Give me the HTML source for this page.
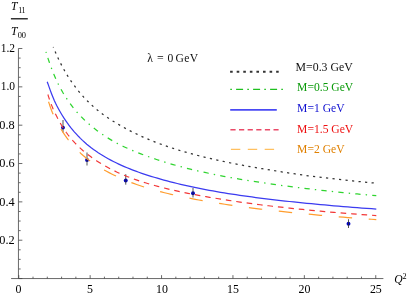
<!DOCTYPE html>
<html><head><meta charset="utf-8"><title>plot</title>
<style>
html,body{margin:0;padding:0;background:#fff;}
body{width:408px;height:295px;overflow:hidden;font-family:"Liberation Serif",serif;}
svg{display:block;will-change:transform;}
text{font-family:"Liberation Serif",serif;}
</style></head><body>
<svg width="408" height="295" viewBox="0 0 408 295">
<rect width="408" height="295" fill="#fff"/>
<g stroke="#444" stroke-width="0.8" fill="none">
<line x1="11.1" y1="278.55" x2="383.4" y2="278.55"/>
<line x1="18.45" y1="48.21" x2="18.45" y2="278.55"/>
<line x1="18.75" y1="278.55" x2="18.75" y2="275.15"/>
<line x1="33.03" y1="278.55" x2="33.03" y2="276.65"/>
<line x1="47.31" y1="278.55" x2="47.31" y2="276.65"/>
<line x1="61.59" y1="278.55" x2="61.59" y2="276.65"/>
<line x1="75.87" y1="278.55" x2="75.87" y2="276.65"/>
<line x1="90.15" y1="278.55" x2="90.15" y2="275.15"/>
<line x1="104.43" y1="278.55" x2="104.43" y2="276.65"/>
<line x1="118.71" y1="278.55" x2="118.71" y2="276.65"/>
<line x1="132.99" y1="278.55" x2="132.99" y2="276.65"/>
<line x1="147.27" y1="278.55" x2="147.27" y2="276.65"/>
<line x1="161.55" y1="278.55" x2="161.55" y2="275.15"/>
<line x1="175.83" y1="278.55" x2="175.83" y2="276.65"/>
<line x1="190.11" y1="278.55" x2="190.11" y2="276.65"/>
<line x1="204.39" y1="278.55" x2="204.39" y2="276.65"/>
<line x1="218.67" y1="278.55" x2="218.67" y2="276.65"/>
<line x1="232.95" y1="278.55" x2="232.95" y2="275.15"/>
<line x1="247.23" y1="278.55" x2="247.23" y2="276.65"/>
<line x1="261.51" y1="278.55" x2="261.51" y2="276.65"/>
<line x1="275.79" y1="278.55" x2="275.79" y2="276.65"/>
<line x1="290.07" y1="278.55" x2="290.07" y2="276.65"/>
<line x1="304.35" y1="278.55" x2="304.35" y2="275.15"/>
<line x1="318.63" y1="278.55" x2="318.63" y2="276.65"/>
<line x1="332.91" y1="278.55" x2="332.91" y2="276.65"/>
<line x1="347.19" y1="278.55" x2="347.19" y2="276.65"/>
<line x1="361.47" y1="278.55" x2="361.47" y2="276.65"/>
<line x1="375.75" y1="278.55" x2="375.75" y2="275.15"/>
<line x1="18.75" y1="278.55" x2="22.35" y2="278.55"/>
<line x1="18.75" y1="268.97" x2="20.65" y2="268.97"/>
<line x1="18.75" y1="259.38" x2="20.65" y2="259.38"/>
<line x1="18.75" y1="249.80" x2="20.65" y2="249.80"/>
<line x1="18.75" y1="240.21" x2="22.35" y2="240.21"/>
<line x1="18.75" y1="230.62" x2="20.65" y2="230.62"/>
<line x1="18.75" y1="221.04" x2="20.65" y2="221.04"/>
<line x1="18.75" y1="211.46" x2="20.65" y2="211.46"/>
<line x1="18.75" y1="201.87" x2="22.35" y2="201.87"/>
<line x1="18.75" y1="192.29" x2="20.65" y2="192.29"/>
<line x1="18.75" y1="182.70" x2="20.65" y2="182.70"/>
<line x1="18.75" y1="173.12" x2="20.65" y2="173.12"/>
<line x1="18.75" y1="163.53" x2="22.35" y2="163.53"/>
<line x1="18.75" y1="153.95" x2="20.65" y2="153.95"/>
<line x1="18.75" y1="144.36" x2="20.65" y2="144.36"/>
<line x1="18.75" y1="134.78" x2="20.65" y2="134.78"/>
<line x1="18.75" y1="125.19" x2="22.35" y2="125.19"/>
<line x1="18.75" y1="115.61" x2="20.65" y2="115.61"/>
<line x1="18.75" y1="106.02" x2="20.65" y2="106.02"/>
<line x1="18.75" y1="96.44" x2="20.65" y2="96.44"/>
<line x1="18.75" y1="86.85" x2="22.35" y2="86.85"/>
<line x1="18.75" y1="77.27" x2="20.65" y2="77.27"/>
<line x1="18.75" y1="67.68" x2="20.65" y2="67.68"/>
<line x1="18.75" y1="58.09" x2="20.65" y2="58.09"/>
<line x1="18.75" y1="48.51" x2="22.35" y2="48.51"/>
</g>
<circle cx="63" cy="127.6" r="1.95" fill="#0000c8"/>
<line x1="63" y1="120" x2="63" y2="132.5" stroke="#2a2a2a" stroke-width="0.8"/>
<circle cx="87" cy="160" r="1.95" fill="#0000c8"/>
<line x1="87" y1="152.5" x2="87" y2="165.5" stroke="#2a2a2a" stroke-width="0.8"/>
<circle cx="125.75" cy="180.5" r="1.95" fill="#0000c8"/>
<line x1="125.75" y1="174.2" x2="125.75" y2="184.7" stroke="#2a2a2a" stroke-width="0.8"/>
<circle cx="193" cy="193.25" r="1.95" fill="#0000c8"/>
<line x1="193" y1="188" x2="193" y2="197.5" stroke="#2a2a2a" stroke-width="0.8"/>
<circle cx="348.5" cy="223.75" r="1.95" fill="#0000c8"/>
<line x1="348.5" y1="219.25" x2="348.5" y2="228" stroke="#2a2a2a" stroke-width="0.8"/>
<path d="M53.30,47.01 L53.48,47.46 L53.84,48.36 L54.33,49.57 L54.93,51.02 L55.63,52.67 L56.42,54.48 L57.29,56.43 L58.25,58.49 L59.27,60.64 L60.37,62.86 L61.53,65.13 L62.76,67.45 L64.06,69.79 L65.41,72.15 L66.82,74.52 L68.29,76.89 L69.82,79.25 L71.40,81.60 L73.04,83.93 L74.73,86.24 L76.47,88.52 L78.26,90.77 L80.10,92.99 L81.99,95.17 L83.92,97.32 L85.90,99.44 L87.93,101.51 L90.01,103.54 L92.13,105.53 L94.29,107.47 L96.50,109.35 L98.75,111.18 L101.05,112.97 L103.38,114.70 L105.76,116.40 L108.18,118.05 L110.64,119.66 L113.14,121.24 L115.68,122.79 L118.26,124.32 L120.87,125.82 L123.53,127.31 L126.22,128.78 L128.96,130.23 L131.73,131.65 L134.53,133.05 L137.38,134.42 L140.26,135.76 L143.17,137.07 L146.13,138.36 L149.11,139.62 L152.14,140.85 L155.20,142.06 L158.29,143.24 L161.42,144.40 L164.58,145.52 L167.78,146.62 L171.01,147.70 L174.27,148.74 L177.57,149.77 L180.90,150.78 L184.26,151.77 L187.66,152.73 L191.09,153.68 L194.55,154.61 L198.04,155.52 L201.57,156.42 L205.12,157.29 L208.71,158.15 L212.33,159.00 L215.98,159.83 L219.66,160.64 L223.37,161.44 L227.12,162.22 L230.89,162.99 L234.69,163.75 L238.53,164.49 L242.39,165.22 L246.28,165.93 L250.21,166.63 L254.16,167.33 L258.14,168.00 L262.16,168.67 L266.20,169.33 L270.27,170.00 L274.36,170.67 L278.49,171.35 L282.65,172.03 L286.83,172.70 L291.04,173.36 L295.28,173.99 L299.55,174.60 L303.85,175.18 L308.17,175.76 L312.53,176.32 L316.91,176.87 L321.31,177.42 L325.75,177.95 L330.21,178.47 L334.70,178.99 L339.21,179.49 L343.76,179.98 L348.33,180.47 L352.92,180.94 L357.54,181.42 L362.19,181.88 L366.87,182.34 L371.57,182.79 L376.30,183.23" fill="none" stroke="#333" stroke-width="1.25" stroke-dasharray="2.2 4.345" stroke-dashoffset="1.66"/>
<path d="M45.95,51.81 L46.13,52.40 L46.50,53.60 L47.00,55.22 L47.62,57.15 L48.33,59.36 L49.14,61.77 L50.04,64.35 L51.01,67.05 L52.06,69.82 L53.18,72.64 L54.37,75.51 L55.63,78.40 L56.95,81.30 L58.34,84.16 L59.78,86.98 L61.29,89.74 L62.85,92.47 L64.47,95.15 L66.14,97.79 L67.86,100.38 L69.64,102.91 L71.48,105.39 L73.36,107.82 L75.29,110.18 L77.27,112.49 L79.30,114.74 L81.37,116.92 L83.49,119.05 L85.66,121.11 L87.88,123.12 L90.13,125.08 L92.44,126.98 L94.78,128.84 L97.17,130.65 L99.60,132.42 L102.08,134.15 L104.59,135.85 L107.15,137.50 L109.75,139.11 L112.38,140.68 L115.06,142.21 L117.78,143.70 L120.53,145.11 L123.33,146.44 L126.16,147.72 L129.03,148.98 L131.94,150.22 L134.89,151.46 L137.87,152.67 L140.89,153.86 L143.95,155.02 L147.04,156.17 L150.17,157.29 L153.33,158.40 L156.53,159.48 L159.76,160.53 L163.03,161.57 L166.34,162.58 L169.67,163.57 L173.05,164.55 L176.45,165.50 L179.89,166.44 L183.37,167.35 L186.87,168.25 L190.41,169.12 L193.98,169.98 L197.59,170.82 L201.23,171.65 L204.90,172.46 L208.60,173.25 L212.33,174.03 L216.10,174.79 L219.89,175.54 L223.72,176.27 L227.58,176.99 L231.47,177.70 L235.39,178.39 L239.34,179.07 L243.33,179.74 L247.34,180.39 L251.38,181.04 L255.45,181.67 L259.56,182.30 L263.69,182.91 L267.85,183.52 L272.04,184.12 L276.27,184.71 L280.52,185.29 L284.79,185.86 L289.10,186.43 L293.44,186.98 L297.81,187.53 L302.20,188.07 L306.62,188.60 L311.07,189.13 L315.55,189.64 L320.06,190.15 L324.60,190.66 L329.16,191.15 L333.75,191.64 L338.37,192.11 L343.02,192.59 L347.69,193.05 L352.39,193.51 L357.12,193.95 L361.87,194.40 L366.66,194.83 L371.46,195.25 L376.30,195.67" fill="none" stroke="#2fd42f" stroke-width="1.25" stroke-dasharray="1.4 5.2 5.3 5.14" stroke-dashoffset="0.24"/>
<path d="M47.20,81.67 L47.38,82.17 L47.75,83.21 L48.25,84.63 L48.86,86.37 L49.58,88.39 L50.38,90.62 L51.27,93.01 L52.24,95.48 L53.28,98.06 L54.40,100.70 L55.59,103.31 L56.84,105.80 L58.16,108.29 L59.54,110.78 L60.98,113.26 L62.48,115.73 L64.03,118.17 L65.65,120.58 L67.31,122.95 L69.03,125.29 L70.80,127.59 L72.63,129.84 L74.50,132.05 L76.43,134.20 L78.40,136.31 L80.42,138.37 L82.49,140.37 L84.60,142.29 L86.76,144.15 L88.97,145.95 L91.22,147.72 L93.51,149.43 L95.85,151.09 L98.23,152.70 L100.65,154.26 L103.12,155.77 L105.62,157.25 L108.17,158.68 L110.75,160.08 L113.38,161.45 L116.05,162.79 L118.76,164.09 L121.50,165.35 L124.28,166.58 L127.11,167.78 L129.97,168.94 L132.86,170.08 L135.80,171.18 L138.77,172.26 L141.78,173.31 L144.82,174.33 L147.90,175.33 L151.02,176.31 L154.17,177.27 L157.36,178.20 L160.58,179.13 L163.84,180.03 L167.13,180.92 L170.46,181.80 L173.82,182.67 L177.21,183.51 L180.64,184.33 L184.10,185.13 L187.59,185.92 L191.12,186.69 L194.67,187.44 L198.27,188.18 L201.89,188.89 L205.54,189.60 L209.23,190.29 L212.95,190.96 L216.70,191.62 L220.49,192.27 L224.30,192.90 L228.14,193.52 L232.02,194.13 L235.93,194.72 L239.86,195.31 L243.83,195.88 L247.83,196.44 L251.85,196.99 L255.91,197.53 L260.00,198.06 L264.12,198.58 L268.26,199.09 L272.44,199.59 L276.64,200.08 L280.88,200.56 L285.14,201.04 L289.43,201.50 L293.75,201.96 L298.10,202.41 L302.48,202.85 L306.89,203.29 L311.32,203.72 L315.78,204.15 L320.27,204.57 L324.79,204.98 L329.34,205.40 L333.91,205.80 L338.51,206.20 L343.14,206.59 L347.80,206.97 L352.48,207.34 L357.19,207.71 L361.93,208.06 L366.69,208.40 L371.48,208.74 L376.30,209.07" fill="none" stroke="#3b3bf0" stroke-width="1.25"/>
<path d="M47.90,94.52 L48.08,95.13 L48.45,96.32 L48.95,97.88 L49.56,99.70 L50.27,101.71 L51.07,103.86 L51.96,106.11 L52.93,108.46 L53.97,110.82 L55.09,113.20 L56.27,115.61 L57.52,118.08 L58.84,120.55 L60.21,123.01 L61.65,125.45 L63.14,127.85 L64.70,130.20 L66.31,132.51 L67.97,134.75 L69.69,136.94 L71.45,139.07 L73.27,141.14 L75.14,143.15 L77.06,145.10 L79.03,147.01 L81.05,148.86 L83.11,150.67 L85.22,152.43 L87.38,154.15 L89.58,155.83 L91.82,157.48 L94.11,159.09 L96.44,160.66 L98.82,162.20 L101.24,163.70 L103.70,165.16 L106.20,166.59 L108.74,167.98 L111.32,169.33 L113.94,170.65 L116.60,171.93 L119.30,173.18 L122.04,174.39 L124.82,175.56 L127.64,176.69 L130.49,177.77 L133.38,178.83 L136.31,179.85 L139.28,180.86 L142.28,181.83 L145.32,182.79 L148.39,183.72 L151.50,184.62 L154.65,185.51 L157.83,186.37 L161.04,187.22 L164.29,188.04 L167.58,188.85 L170.89,189.64 L174.25,190.41 L177.63,191.17 L181.05,191.90 L184.50,192.63 L187.99,193.33 L191.51,194.02 L195.06,194.70 L198.64,195.36 L202.26,196.01 L205.91,196.66 L209.59,197.29 L213.30,197.91 L217.04,198.53 L220.82,199.14 L224.62,199.74 L228.46,200.33 L232.33,200.91 L236.22,201.48 L240.15,202.05 L244.11,202.61 L248.10,203.15 L252.12,203.69 L256.17,204.23 L260.25,204.75 L264.35,205.26 L268.49,205.76 L272.66,206.25 L276.86,206.74 L281.08,207.21 L285.34,207.67 L289.62,208.13 L293.93,208.58 L298.27,209.03 L302.64,209.47 L307.03,209.91 L311.46,210.33 L315.91,210.75 L320.39,211.17 L324.90,211.58 L329.44,211.98 L334.00,212.37 L338.59,212.75 L343.21,213.13 L347.86,213.50 L352.53,213.86 L357.23,214.21 L361.96,214.56 L366.71,214.89 L371.49,215.22 L376.30,215.55" fill="none" stroke="#f23838" stroke-width="1.2" stroke-dasharray="5.6 4.9" stroke-dashoffset="0.37"/>
<path d="M48.30,100.93 L48.48,101.48 L48.85,102.61 L49.35,104.13 L49.96,105.96 L50.67,108.02 L51.47,110.21 L52.36,112.44 L53.32,114.69 L54.36,116.96 L55.48,119.26 L56.66,121.58 L57.91,123.87 L59.22,126.15 L60.60,128.44 L62.03,130.76 L63.53,133.10 L65.08,135.40 L66.68,137.66 L68.34,139.87 L70.06,142.03 L71.83,144.14 L73.64,146.20 L75.51,148.21 L77.43,150.17 L79.40,152.07 L81.41,153.93 L83.47,155.73 L85.58,157.49 L87.73,159.20 L89.93,160.86 L92.17,162.47 L94.46,164.04 L96.79,165.57 L99.16,167.06 L101.57,168.50 L104.03,169.92 L106.53,171.29 L109.06,172.64 L111.64,173.96 L114.26,175.24 L116.92,176.50 L119.62,177.73 L122.35,178.92 L125.13,180.09 L127.94,181.23 L130.79,182.35 L133.68,183.43 L136.60,184.49 L139.57,185.51 L142.56,186.51 L145.60,187.48 L148.67,188.42 L151.77,189.33 L154.92,190.21 L158.09,191.08 L161.30,191.92 L164.55,192.74 L167.83,193.54 L171.14,194.32 L174.49,195.08 L177.87,195.83 L181.29,196.55 L184.74,197.27 L188.22,197.96 L191.73,198.64 L195.28,199.31 L198.86,199.97 L202.47,200.61 L206.12,201.24 L209.79,201.86 L213.50,202.47 L217.24,203.07 L221.01,203.66 L224.81,204.24 L228.64,204.82 L232.50,205.38 L236.39,205.93 L240.32,206.47 L244.27,207.01 L248.26,207.53 L252.27,208.05 L256.31,208.56 L260.39,209.06 L264.49,209.55 L268.62,210.03 L272.79,210.51 L276.98,210.98 L281.20,211.44 L285.45,211.89 L289.72,212.34 L294.03,212.78 L298.36,213.21 L302.73,213.64 L307.12,214.06 L311.54,214.47 L315.99,214.88 L320.46,215.28 L324.96,215.67 L329.50,216.06 L334.05,216.44 L338.64,216.81 L343.25,217.18 L347.89,217.54 L352.56,217.90 L357.25,218.25 L361.98,218.59 L366.72,218.93 L371.50,219.26 L376.30,219.59" fill="none" stroke="#ff9d2e" stroke-width="1.2" stroke-dasharray="13.4 16.7" stroke-dashoffset="29.30"/>
<line x1="230.1" y1="71.75" x2="278.7" y2="71.75" stroke="#333" stroke-width="1.9" stroke-dasharray="2.6 3.98"/>
<line x1="230.3" y1="89.4" x2="283.2" y2="89.4" stroke="#1ec01e" stroke-width="1.3" stroke-dasharray="1.6 4.2 7 4.2"/>
<line x1="230.2" y1="109.85" x2="276.8" y2="109.85" stroke="#4a4af4" stroke-width="1.7"/>
<line x1="230.4" y1="129.75" x2="278.6" y2="129.75" stroke="#ea4a68" stroke-width="1.3" stroke-dasharray="5.2 3.42"/>
<line x1="230.9" y1="149.3" x2="274.5" y2="149.3" stroke="#ffc060" stroke-width="1.35" stroke-dasharray="9.4 7.5"/>
<line x1="10.9" y1="18.75" x2="27.8" y2="18.75" stroke="#333" stroke-width="1.5"/>
<text x="295.6" y="70.9" fill="#111" font-size="11.8" text-anchor="start" >M=0.3 GeV</text>
<text x="297.1" y="91.0" fill="#0a9a0a" font-size="11.6" text-anchor="start" >M=0.5 GeV</text>
<text x="297.1" y="112.0" fill="#1010d0" font-size="11.6" text-anchor="start" >M=1 GeV</text>
<text x="297.1" y="132.5" fill="#ee1111" font-size="11.6" text-anchor="start" >M=1.5 GeV</text>
<text x="297.1" y="153.0" fill="#e08000" font-size="11.6" text-anchor="start" >M=2 GeV</text>
<text x="14.6" y="243.96" fill="#000" font-size="12.3" text-anchor="end" >0.2</text>
<text x="14.6" y="205.62" fill="#000" font-size="12.3" text-anchor="end" >0.4</text>
<text x="14.6" y="167.28" fill="#000" font-size="12.3" text-anchor="end" >0.6</text>
<text x="14.6" y="128.94" fill="#000" font-size="12.3" text-anchor="end" >0.8</text>
<text x="15.1" y="90.35" fill="#000" font-size="11.5" text-anchor="end" >1.0</text>
<text x="15.1" y="52.01" fill="#000" font-size="11.5" text-anchor="end" >1.2</text>
<text x="18.55" y="292.6" fill="#000" font-size="11.9" text-anchor="middle" >0</text>
<text x="89.95" y="292.6" fill="#000" font-size="11.9" text-anchor="middle" >5</text>
<text x="161.95" y="292.6" fill="#000" font-size="11.9" text-anchor="middle" >10</text>
<text x="233.05" y="292.6" fill="#000" font-size="11.9" text-anchor="middle" >15</text>
<text x="304.45" y="292.6" fill="#000" font-size="11.9" text-anchor="middle" >20</text>
<text x="375.85" y="292.6" fill="#000" font-size="11.9" text-anchor="middle" >25</text>
<text x="394.2" y="283.0" fill="#000" font-size="11.6" text-anchor="start" ><tspan font-style="italic">Q</tspan><tspan font-size="8.2" dy="-4.3">2</tspan></text>
<text x="11.0" y="9.8" fill="#000" font-size="11.6" text-anchor="start" ><tspan font-style="italic">T</tspan><tspan font-size="8.0" dy="2.8" dx="0.7" letter-spacing="-0.45">11</tspan></text>
<text x="11.0" y="34.7" fill="#000" font-size="11.6" text-anchor="start" ><tspan font-style="italic">T</tspan><tspan font-size="8.4" dy="3.3" dx="0.2">00</tspan></text>
<text x="147.3" y="62.0" fill="#111" font-size="11.6" text-anchor="start" >λ</text>
<text x="156.9" y="62.0" fill="#111" font-size="11.6" text-anchor="start" textLength="6.7" lengthAdjust="spacingAndGlyphs">=</text>
<text x="167.5" y="62.0" fill="#111" font-size="11.6" text-anchor="start" >0</text>
<text x="175.4" y="62.0" fill="#111" font-size="11.6" text-anchor="start" letter-spacing="0.4">GeV</text>
</svg>
</body></html>
